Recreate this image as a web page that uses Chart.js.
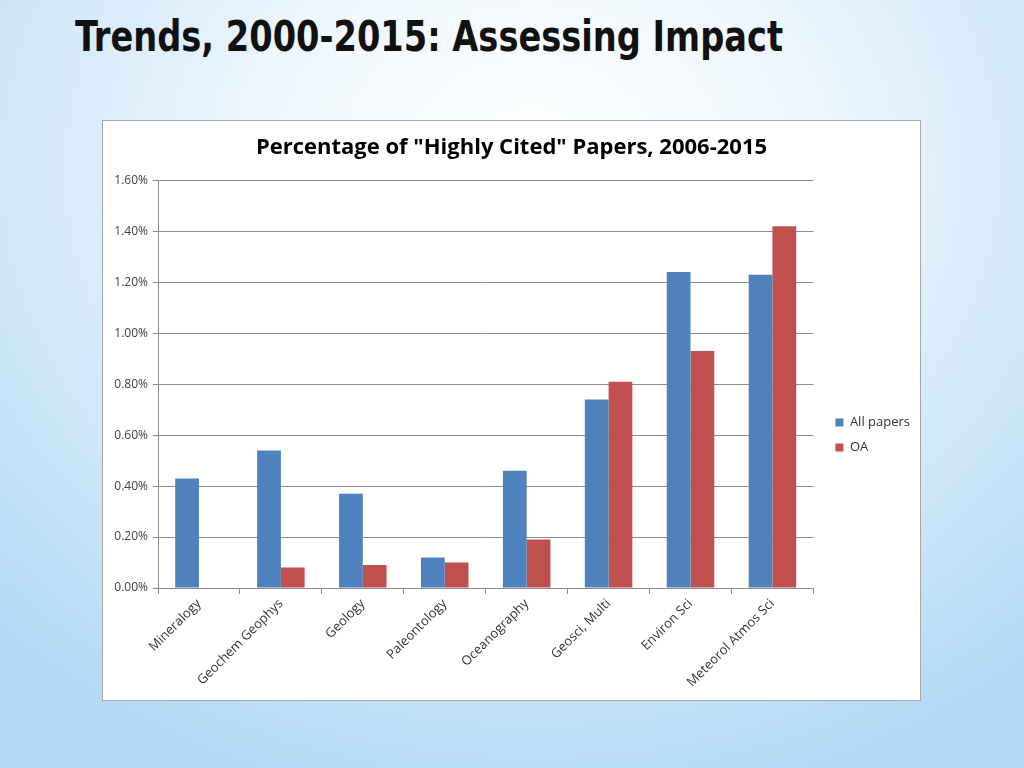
<!DOCTYPE html>
<html>
<head>
<meta charset="utf-8">
<script src="https://cdn.jsdelivr.net/npm/chart.js@4"></script>
<style>
    html, body { margin: 0; padding: 0; }
    body {
        width: 1024px; height: 768px; overflow: hidden; position: relative;
        background: radial-gradient(ellipse 75% 85% at 52% 22%, #ffffff 0%, #eef7fd 35%, #cfe7f9 70%, #b2d9f5 100%);
        font-family: 'Open Sans', sans-serif;
    }
    #slide-title {
        position: absolute; left: 75px; top: 12px;
        font-family: 'DejaVu Sans Condensed', 'DejaVu Sans', sans-serif;
        font-weight: bold; font-size: 42px; color: #111;
        white-space: nowrap; transform-origin: left top;
    }
    #chart-box {
        position: absolute; left: 102px; top: 120px;
        width: 817px; height: 579px;
        background: #fff; border: 1px solid #a6a6a6;
    }
</style>
</head>
<body>
<div id="slide-title">Trends, 2000-2015: Assessing Impact</div>
<div id="chart-box"><canvas id="cited-chart" width="817" height="579"></canvas></div>
<script>
// Data (percent of papers that are "highly cited")
const categories = ['Mineralogy', 'Geochem Geophys', 'Geology', 'Paleontology',
                    'Oceanography', 'Geosci, Multi', 'Environ Sci', 'Meteorol Atmos Sci'];
const allPapers = [0.43, 0.54, 0.37, 0.12, 0.46, 0.74, 1.24, 1.23];
const oaPapers  = [0.00, 0.08, 0.09, 0.10, 0.19, 0.81, 0.93, 1.42];
const seriesNames = ['All papers', 'OA'];
const yTicks = [0, 0.2, 0.4, 0.6, 0.8, 1.0, 1.2, 1.4, 1.6];

// Squeeze the slide title to the width it has in the deck.
const titleEl = document.getElementById('slide-title');
titleEl.style.transform = 'scaleX(' + (708 / titleEl.offsetWidth) + ')';

Chart.defaults.font.family = "'Open Sans', sans-serif";
Chart.defaults.color = '#404040';

// Put legend and title where Excel put them.
const boxTweaks = {
    id: 'boxTweaks',
    afterLayout(chart) {
        const lg = chart.legend;
        const h = lg.bottom - lg.top;
        const w = lg.right - lg.left;
        lg.top = chart.chartArea.top - 35;
        lg.bottom = lg.top + h;
        lg.left = chart.chartArea.right + 10;
        lg.right = lg.left + w;

        // centre the chart title on the whole box, not on the padded width
        chart.titleBlock.left = 0;
        chart.titleBlock.right = chart.width;
    }
};

new Chart(document.getElementById('cited-chart'), {
    type: 'bar',
    data: {
        labels: categories,
        datasets: [{
            label: seriesNames[0],
            data: allPapers,
            backgroundColor: '#4f81bd',
            categoryPercentage: 0.58,
            barPercentage: 1.0
        }, {
            label: seriesNames[1],
            data: oaPapers,
            backgroundColor: '#c0504d',
            categoryPercentage: 0.58,
            barPercentage: 1.0
        }]
    },
    options: {
        responsive: false,
        animation: false,
        layout: { padding: { left: 0, right: 10, top: 0, bottom: 0 } },
        plugins: {
            title: {
                display: true,
                text: 'Percentage of "Highly Cited" Papers, 2006-2015',
                color: '#000',
                font: { size: 22, weight: 'bold' },
                padding: { top: 14, bottom: 19 }
            },
            legend: {
                position: 'right',
                labels: {
                    boxWidth: 8,
                    boxHeight: 8,
                    padding: 12,
                    color: '#333',
                    font: { size: 13 }
                }
            },
            tooltip: { enabled: false }
        },
        scales: {
            x: {
                offset: true,
                border: { display: true, color: '#8c8c8c' },
                grid: {
                    display: true,
                    offset: true,
                    drawOnChartArea: false,
                    drawTicks: true,
                    tickLength: 6,
                    color: '#8c8c8c'
                },
                ticks: {
                    minRotation: 45,
                    maxRotation: 45,
                    padding: 2,
                    color: '#333',
                    font: { size: 13 }
                },
                afterFit(scale) { scale.height = 112; }
            },
            y: {
                min: 0,
                max: 1.6,
                afterBuildTicks(scale) {
                    scale.ticks = yTicks.map(v => ({ value: v }));
                },
                border: { display: true, color: '#8c8c8c' },
                grid: {
                    color: '#8c8c8c',
                    tickLength: 5
                },
                ticks: {
                    padding: 5,
                    color: '#404040',
                    font: { size: 12 },
                    callback: v => v.toFixed(2) + '%'
                },
                afterFit(scale) { scale.width = 55; }
            }
        }
    },
    plugins: [boxTweaks]
});
</script>
</body>
</html>
